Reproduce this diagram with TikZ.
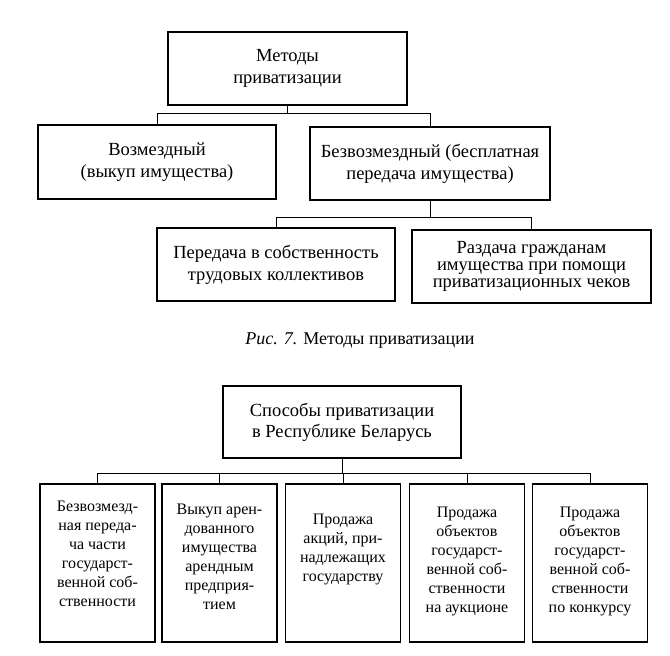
\documentclass[tikz,border=0pt]{standalone}
\usepackage{fontspec}
\setmainfont{Liberation Serif}
\begin{document}
\begin{tikzpicture}[x=1pt,y=-1pt,
  box/.style={draw, line width=1.3pt, inner sep=0pt, align=center,
    font=\fontsize{18.5}{22}\selectfont},
  tallbox/.style={draw, line width=1.3pt, inner sep=0pt,
    minimum width=115pt, minimum height=158pt},
  boxtext/.style={anchor=north, inner sep=0pt, align=center,
    font=\fontsize{16}{19}\selectfont},
  conn/.style={draw, line width=1pt},
  caption/.style={inner sep=0pt, font=\fontsize{18}{20}\selectfont}]
\useasboundingbox (0,0) rectangle (670,656);
% ---------- Diagram 1 ----------
\node[box, minimum width=239pt, minimum height=73pt] (m) at (287.5,68.5) {Методы\\приватизации};
\node[box, minimum width=238pt, minimum height=74pt] (a) at (157,162) {Возмездный\\(выкуп имущества)};
\node[box, minimum width=240pt, minimum height=73pt] (b) at (430,163.5) {Безвозмездный (бесплатная\\передача имущества)};
\node[box, minimum width=238pt, minimum height=73pt] (c) at (276,264.5) {Передача в собственность\\трудовых коллективов};
\node[box, minimum width=239pt, minimum height=73pt, font=\fontsize{18.5}{17}\selectfont] (d) at (531.5,266.5) {Раздача гражданам\\имущества при помощи\\приватизационных чеков};
\coordinate (bar1) at (0,113);
\coordinate (bar2) at (0,217);
\draw[conn] (m.south) -- (m.south |- bar1);
\draw[conn] (a.north) -- (a.north |- bar1) -- (b.north |- bar1) -- (b.north);
\draw[conn] (b.south) -- (b.south |- bar2);
\draw[conn] (c.north) -- (c.north |- bar2) -- (d.north |- bar2) -- (d.north);
\node[caption] (cap) at (360,341) {\textit{Рис. 7.} Методы приватизации};
% ---------- Diagram 2 ----------
\node[box, minimum width=238pt, minimum height=72pt, font=\fontsize{18.5}{21}\selectfont] (s) at (342,422) {Способы приватизации\\в Республике Беларусь};
\node[tallbox] (b1) at (97.5,563) {};
\node[tallbox] (b2) at (219.5,563) {};
\node[tallbox] (b3) at (343,563) {};
\node[tallbox] (b4) at (467,563) {};
\node[tallbox] (b5) at (590,563) {};
\node[boxtext] (t1) at ([yshift=-17pt]b1.north) {Безвозмезд-\\ная переда-\\ча части\\государст-\\венной соб-\\ственности};
\node[boxtext] (t2) at ([yshift=-20pt]b2.north) {Выкуп арен-\\дованного\\имущества\\арендным\\предприя-\\тием};
\node[boxtext] (t3) at ([yshift=-30pt]b3.north) {Продажа\\акций, при-\\надлежащих\\государству};
\node[boxtext] (t4) at ([yshift=-23pt]b4.north) {Продажа\\объектов\\государст-\\венной соб-\\ственности\\на аукционе};
\node[boxtext] (t5) at ([yshift=-23pt]b5.north) {Продажа\\объектов\\государст-\\венной соб-\\ственности\\по конкурсу};
\coordinate (bar3) at (0,473);
\draw[conn] (s.south) -- (s.south |- bar3);
\draw[conn] (b1.north) -- (b1.north |- bar3) -- (b5.north |- bar3) -- (b5.north);
\draw[conn] (b2.north) -- (b2.north |- bar3);
\draw[conn] (b3.north) -- (b3.north |- bar3);
\draw[conn] (b4.north) -- (b4.north |- bar3);
\end{tikzpicture}
\end{document}
